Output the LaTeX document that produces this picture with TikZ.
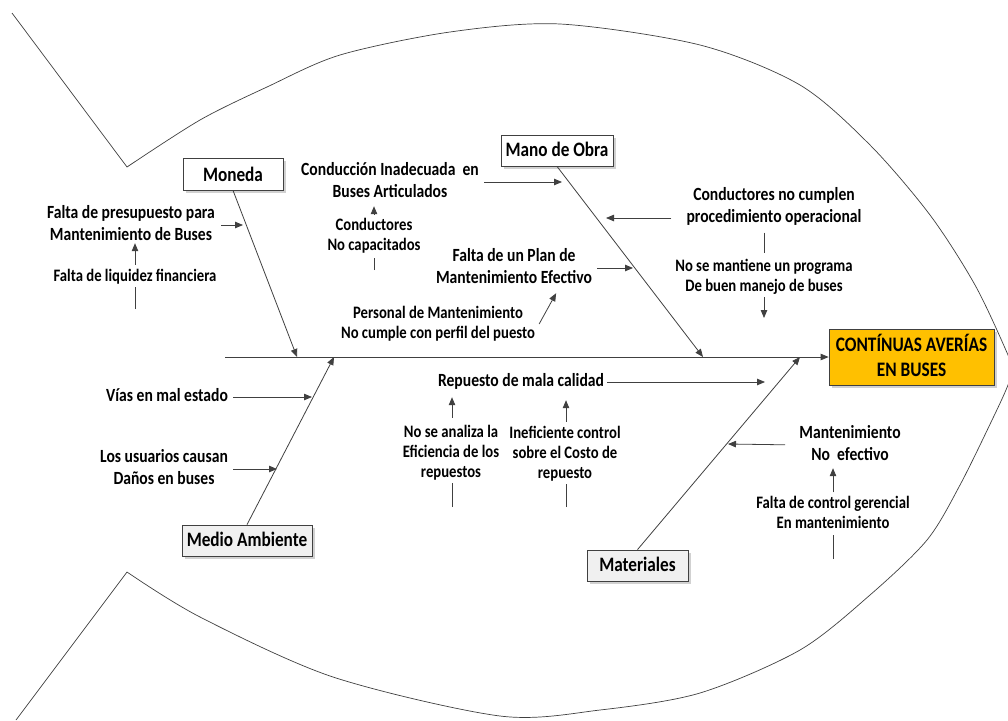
\documentclass[tikz,border=0pt]{standalone}
\usepackage{fontspec}
\usepackage{graphicx}
\setmainfont{Carlito}
\usetikzlibrary{arrows.meta,calc,shadows}
\definecolor{efectofill}{HTML}{FFC000}
\definecolor{trazo}{HTML}{404040}
% narrow, tall lettering used for every text of the diagram
\newcommand{\tx}[1]{\scalebox{0.84}[1]{\begin{tabular}{@{}c@{}}#1\end{tabular}}}
% same lettering, aligned on the baseline of its first line (box titles)
\newcommand{\bx}[1]{\scalebox{0.84}[1]{\begin{tabular}[t]{@{}c@{}}#1\end{tabular}}}
\begin{document}
\begin{tikzpicture}[x=1pt,y=-1pt,
  ln/.style={draw=trazo, line width=0.8pt},
  arr/.style={ln, -{Triangle[length=8pt,width=6.5pt]}},
  contorno/.style={draw=trazo, line width=0.7pt},
  lbl/.style={inner sep=0pt, font=\bfseries\fontsize{18.6}{22}\selectfont},
  sub/.style={inner sep=0pt, font=\bfseries\fontsize{17.5}{20}\selectfont},
  cat/.style={draw=trazo, line width=0.8pt, fill=white, inner sep=0pt,
    text height=21.7pt, text depth=9.3pt, font=\bfseries\fontsize{20.5}{24}\selectfont,
    drop shadow={shadow xshift=3pt, shadow yshift=-3pt, fill=black!18, opacity=1}},
  efecto/.style={cat, fill=efectofill, minimum width=165pt,
    text height=22.7pt, text depth=33.3pt,
    font=\bfseries\fontsize{20.6}{24.3}\selectfont},
]
\useasboundingbox (0,0) rectangle (1008,720);

% fish outline: tail and head arcs
\begin{scope}
  \clip (0,0) rectangle (1008,720);
  \draw[contorno] (12,13) -- plot[smooth] coordinates {(127,167) (200,120) (267,87) (340,55)
    (450,32) (560,24) (700,45) (800,85) (870,145) (930,215) (975,285) (1008,355) (1025,400)};
  \draw[contorno] (16,720) -- plot[smooth] coordinates {(127,572) (200,617) (333,677)
    (500,716) (600,710) (700,693) (800,650) (870,595) (927,540) (960,485) (993,418)
    (1008,385) (1020,350)};
\end{scope}

% category boxes and effect
\node[cat, minimum width=100pt, text height=23.4pt, text depth=8.6pt]
  (moneda) at (233,174) {\bx{Moneda}};
\node[cat, minimum width=112pt] (mano) at (557,150.5) {\bx{Mano de Obra}};
\node[cat, fill=black!6, minimum width=130pt] (medio) at (247,540.5) {\bx{Medio Ambiente}};
\node[cat, fill=black!6, minimum width=101pt] (mat) at (637.5,565.5) {\bx{Materiales}};
\node[efecto] (efecto) at (911.5,357) {\bx{CONTÍNUAS AVERÍAS\\EN BUSES}};

% spine
\coordinate (cola) at (225,357);
\draw[arr] (cola) -- (efecto.west);

% main bones
\coordinate (mb) at (297,357);
\coordinate (ob) at (703,357);
\coordinate (ab) at (334,357);
\coordinate (tb) at (800,357);
\draw[arr] (moneda.south) -- (mb);
\draw[arr] (mano.south) -- (ob);
\draw[arr] (medio.north) -- (ab);
\draw[arr] (mat.north) -- (tb);

% Moneda
\node[lbl] (fp) at (131,225) {\tx{Falta de presupuesto para\\Mantenimiento de Buses}};
\coordinate (fpt) at (243,223);
\draw[arr, shorten <=6pt] (fp.east) -- (fpt |- fp.east);
\node[sub] (liq) at (135,277) {\tx{Falta de liquidez financiera}};
\coordinate (liq0) at (135,309);
\draw[ln] (liq0) -- (liq.south);
\draw[arr, shorten <=2pt, shorten >=-4pt] (liq.north) -- (liq.north |- fp.south);

% Mano de Obra
\node[lbl] (cia) at (390,182) {\tx{Conducción Inadecuada~~en\\Buses Articulados}};
\coordinate (ciat) at (562,180);
\draw[arr, shorten <=5pt] (cia.east) -- (ciat |- cia.east);
\node[sub] (cap) at (374,236) {\tx{Conductores\\No capacitados}};
\coordinate (cap0) at (374,270);
\draw[ln, shorten >=2pt] (cap0) -- (cap.south);
\draw[arr, shorten <=1pt, shorten >=2pt] (cap.north) -- (cap.north |- cia.south);
\node[lbl] (plan) at (514,268) {\tx{Falta de un Plan de\\Mantenimiento Efectivo}};
\coordinate (plant) at (633,266);
\draw[arr, shorten <=5pt] (plan.east) -- (plant |- plan.east);
\node[sub] (pers) at (438,324) {\tx{Personal de Mantenimiento\\No cumple con perfil del puesto}};
\draw[arr] ($(pers.east)+(4,0)$) -- ($(plan.south east)+(-36,3)$);
\node[lbl] (cnc) at (774,207.5) {\tx{Conductores no cumplen\\procedimiento operacional}};
\coordinate (cnct) at (606,218);
\draw[arr, shorten <=15pt] (cnc.west |- cnct) -- (cnct);
\node[sub] (nsm) at (764,277) {\tx{No se mantiene un programa\\De buen manejo de buses}};
\coordinate (nsmt) at (764,318);
\draw[ln, shorten <=3pt, shorten >=4pt] (nsm.north |- cnc.south) -- (nsm.north);
\draw[arr] (nsm.south) -- (nsmt);

% Medio Ambiente
\node[lbl] (vias) at (167,397) {\tx{Vías en mal estado}};
\coordinate (viast) at (312,396);
\draw[arr, shorten <=5pt] (vias.east) -- (viast |- vias.east);
\node[lbl] (usu) at (164,469) {\tx{Los usuarios causan\\Daños en buses}};
\coordinate (usut) at (277,467);
\draw[arr, shorten <=5pt] (usu.east) -- (usut |- usu.east);

% Materiales
\node[lbl] (rep) at (521,382) {\tx{Repuesto de mala calidad}};
\coordinate (rept) at (765,382);
\draw[arr, shorten <=3pt] (rep.east) -- (rept |- rep.east);
\node[sub] (nsa) at (451,453) {\tx{No se analiza la\\Eficiencia de los\\repuestos}};
\coordinate (nsa0) at (452,507);
\draw[ln] (nsa0) -- (nsa0 |- nsa.south);
\draw[arr, shorten <=5pt, shorten >=4pt] (nsa0 |- nsa.north) -- (nsa0 |- rep.south);
\node[sub] (ine) at (565,454) {\tx{Ineficiente control\\sobre el Costo de\\repuesto}};
\coordinate (ine0) at (566,507);
\draw[ln] (ine0) -- (ine0 |- ine.south);
\draw[arr, shorten <=2pt, shorten >=7pt] (ine0 |- ine.north) -- (ine0 |- rep.south);
\node[lbl] (mne) at (850,445) {\tx{Mantenimiento\\No~~efectivo}};
\coordinate (mnet) at (728,444);
\draw[arr, shorten <=14pt] (mne.west) -- (mnet);
\node[sub] (fcg) at (833,514.5) {\tx{Falta de control gerencial\\En mantenimiento}};
\coordinate (fcg0) at (833,559);
\draw[ln] (fcg0) -- (fcg.south);
\draw[arr, shorten <=2pt, shorten >=1pt] (fcg.north) -- (fcg.north |- mne.south);
\end{tikzpicture}
\end{document}
